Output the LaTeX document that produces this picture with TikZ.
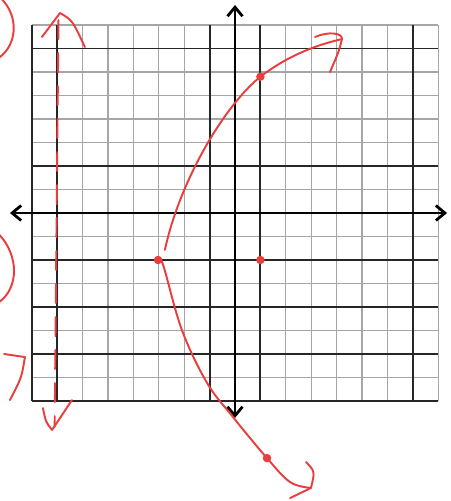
\documentclass[tikz,border=0pt]{standalone}
\usepackage{tikz}
\usetikzlibrary{arrows.meta}
\definecolor{penRed}{RGB}{234,62,62}
\tikzset{
    gridThin/.style={
        gray!70,
        line width=0.75pt
    },
    gridDark/.style={
        black!85,
        line width=1.1pt
    },
    axisLine/.style={
        {Straight Barb[length=1.8mm,width=3mm]}-{Straight Barb[length=1.8mm,width=3mm]},
        line width=1.6pt
    },
    penStroke/.style={
        penRed,
        line width=1.1pt,
        line cap=round,
        line join=round
    },
    penDashed/.style={
        penStroke,
        dash pattern=on 0.38cm off 0.28cm
    }
}

\begin{document}
\begin{tikzpicture}[x=0.508cm,y=0.47cm]
        \useasboundingbox (-9.252,-12.255) rectangle (8.504,9.064);
        \clip (-9.252,-12.255) rectangle (8.504,9.064);

        % graph paper
        \foreach \k in {-8,...,8} {
            \draw[gridThin] (\k,-8) -- (\k,8);
            \draw[gridThin] (-8,\k) -- (8,\k);
        }
        \foreach \k in {-8,-7,-1,1,7} \draw[gridDark] (\k,-8) -- (\k,8);
        \foreach \k in {-8,-6,-4,-2,2,7} \draw[gridDark] (-8,\k) -- (8,\k);

        % axes
        \coordinate (xLeft) at (-8.86,0);
        \coordinate (xRight) at (8.35,0);
        \coordinate (yBottom) at (0,-8.72);
        \coordinate (yTop) at (0,8.85);
        \draw[axisLine] (xLeft) -- (xRight);
        \draw[axisLine] (yBottom) -- (yTop);

        % points of the parabola
        \coordinate (vertex) at (-3.03,-2);
        \coordinate (focus) at (1,-2);
        \coordinate (upperPt) at (1.0,5.8);
        \coordinate (lowerPt) at (1.26,-10.43);

        % directrix
        \draw[penDashed] (-6.95,8.21) -- (-7.1,-9.1);
        \draw[penStroke] (-7.60,7.49) -- (-6.89,8.51) .. controls (-6.4,8.2) .. (-5.91,7.06);
        \draw[penStroke] (-7.56,-8.30) .. controls (-7.45,-8.9) .. (-7.20,-9.23) -- (-6.42,-7.96);

        % parabola
        \draw[penStroke] (-2.76,-1.57) .. controls (-2.17,1.40) and (-0.39,4.60) .. (upperPt)
            .. controls (2.17,6.77) and (3.35,7.19) .. (4.21,7.40);
        \draw[penStroke] (3.15,7.49) .. controls (3.7,7.75) and (4.25,7.65) .. (4.21,7.40) .. controls (4.1,6.9) .. (3.74,6.0);
        \draw[penStroke] plot[smooth,tension=0.6] coordinates {(vertex) (-2.83,-2.21) (-2.09,-4.98) (-1.10,-7.23) (-0.08,-8.68) (lowerPt) (2.17,-11.45) (2.99,-11.70)};
        \draw[penStroke] (2.80,-10.60) .. controls (3.15,-11.0) .. (2.99,-11.70) -- (2.17,-12.13);

        \fill[penRed] (vertex) circle[radius=0.085cm];
        \fill[penRed] (focus) circle[radius=0.085cm];
        \fill[penRed] (upperPt) circle[radius=0.085cm];
        \fill[penRed] (lowerPt) circle[radius=0.085cm];

        % cut-off writing at the left edge
        \draw[penStroke] (-9.4,9.3) .. controls (-8.5,8.6) and (-8.5,7.2) .. (-9.3,6.6);
        \draw[penStroke] (-9.3,-0.9) .. controls (-8.5,-1.8) and (-8.5,-3.2) .. (-9.3,-3.8);
        \draw[penStroke] (-9.09,-6.0) -- (-8.27,-6.13) .. controls (-8.4,-7) .. (-8.86,-7.96);
    \end{tikzpicture}
\end{document}
